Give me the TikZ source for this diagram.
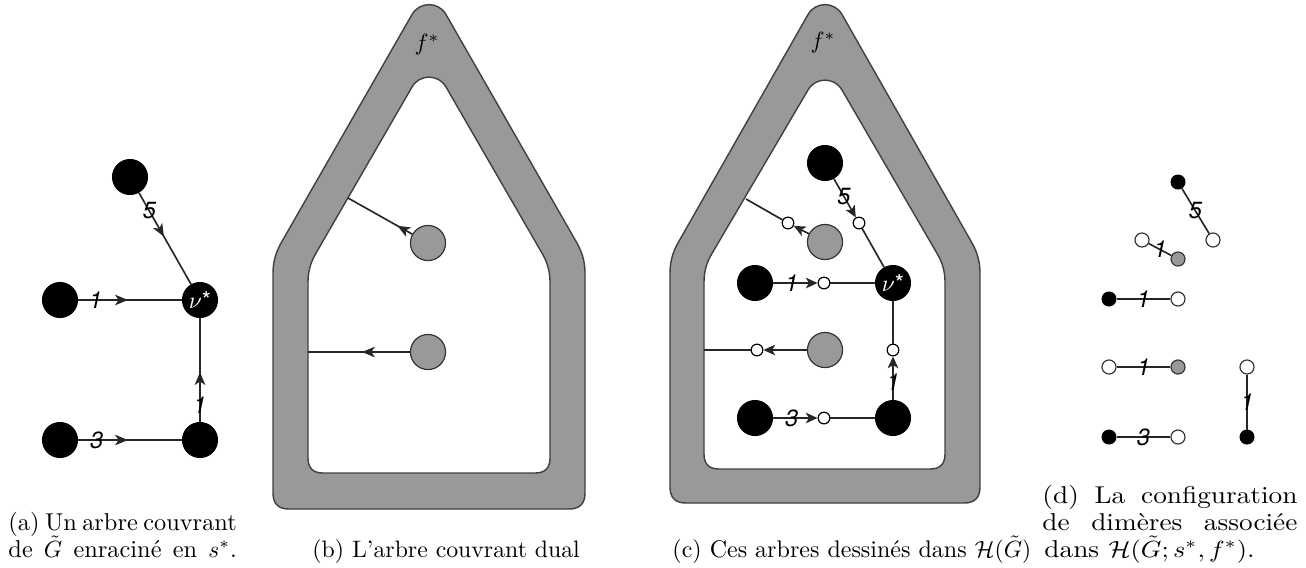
\documentclass[tikz,border=0pt]{standalone}
\usepackage{fontspec}
\usepackage{graphicx}
\newfontfamily\labfont{TeX Gyre Heros}
\usetikzlibrary{arrows.meta,decorations.markings}
\definecolor{ringgray}{RGB}{153,153,153}
\newcommand\capfont{\fontsize{10.4pt}{12.5pt}\selectfont}
\begin{document}
\begin{tikzpicture}[x=0.427pt,y=-0.427pt,
  blk/.style={circle,fill=black,draw=black,minimum size=15pt,inner sep=0pt},
  gry/.style={circle,fill=ringgray,draw=black!80,line width=0.5pt,minimum size=15pt,inner sep=0pt},
  wht/.style={circle,fill=white,draw=black,line width=0.5pt,minimum size=5pt,inner sep=0pt},
  sblk/.style={circle,fill=black,draw=black,minimum size=6pt,inner sep=0pt},
  swht/.style={circle,fill=white,draw=black!80,line width=0.5pt,minimum size=6pt,inner sep=0pt},
  sgry/.style={circle,fill=ringgray,draw=black!80,line width=0.5pt,minimum size=6pt,inner sep=0pt},
  edgeline/.style={draw=black!85,line width=0.7pt},
  tipend/.style={-{Stealth[length=5pt,width=4.5pt,inset=1.3pt]}},
  midarrow/.style={postaction={decorate},decoration={markings,mark=at position #1 with {\arrow{Stealth[length=5.5pt,width=4.5pt,inset=1.5pt]}}}},
  lab/.style={font=\labfont\itshape,inner sep=0pt},
  ringshape/.style={fill=ringgray,draw=black!75,line width=0.6pt,even odd rule},
  captext/.style={anchor=base west,inner sep=0pt,font=\capfont},
  vlab/.style={text=white}
]
\useasboundingbox (0,0) rectangle (1306,567);

% ---------- panel (a)
\node[blk] (a5) at (130,177) {};
\node[blk,vlab] (av) at (200,300) {$\nu$\labfont*};
\node[blk] (a1) at (60,300) {};
\node[blk] (a3) at (60,440) {};
\node[blk] (ab) at (200,440) {};
\draw[edgeline,midarrow=0.48] (a5) -- node[lab,pos=0.2]{5} (av);
\draw[edgeline,midarrow=0.48] (a1) -- node[lab,pos=0.17]{1} (av);
\draw[edgeline,midarrow=0.48] (a3) -- node[lab,pos=0.18]{3} (ab);
\draw[edgeline,midarrow=0.48] (ab) -- node[lab,pos=0.16]{1} (av);

% ---------- panel (b)
\draw[ringshape]
  (429,509) -- (289,509) .. controls (278.3,509) and (273,503.7) .. (273,493)
  -- (273,273) .. controls (273,262.3) and (275.7,252.4) .. (281,243.1)
  -- (412,14.5) .. controls (419.6,1.3) and (438.4,1.3) .. (446,14.5)
  -- (577,243.1) .. controls (582.3,252.4) and (585,262.3) .. (585,273)
  -- (585,493) .. controls (585,503.7) and (579.7,509) .. (569,509) -- cycle
  (429,473) -- (323,473) .. controls (313,473) and (308,468) .. (308,458)
  -- (308,282) .. controls (308,272) and (310.5,262.7) .. (315.5,254)
  -- (412,87) .. controls (419.6,73.8) and (438.4,73.8) .. (446,87)
  -- (542.5,254) .. controls (547.5,262.7) and (550,272) .. (550,282)
  -- (550,458) .. controls (550,468) and (545,473) .. (535,473) -- cycle;
\node (bf) at (427,45) {$f^*$};
\node[gry] (bg1) at (428,243) {};
\node[gry] (bg2) at (428,352) {};
\coordinate (be1) at (348,198);
\coordinate (be2) at (308,352);
\draw[edgeline,midarrow=0.23] (bg1) -- (be1);
\draw[edgeline,midarrow=0.47] (bg2) -- (be2);

% ---------- panel (c)
\draw[ringshape]
  (825,503) -- (686,503) .. controls (675.3,503) and (670,497.7) .. (670,487)
  -- (670,273) .. controls (670,262.3) and (672.6,252.4) .. (677.9,243.1)
  -- (808,14.5) .. controls (815.6,1.3) and (834.4,1.3) .. (842,14.5)
  -- (972.1,243.1) .. controls (977.4,252.4) and (980,262.3) .. (980,273)
  -- (980,487) .. controls (980,497.7) and (974.7,503) .. (964,503) -- cycle
  (825,469) -- (719,469) .. controls (709,469) and (704,464) .. (704,454)
  -- (704,282) .. controls (704,272) and (706.5,262.7) .. (711.6,254.1)
  -- (808,90) .. controls (815.6,76.8) and (834.4,76.8) .. (842,90)
  -- (937.4,254.1) .. controls (942.5,262.7) and (945,272) .. (945,282)
  -- (945,454) .. controls (945,464) and (940,469) .. (930,469) -- cycle;
\node (cf) at (823,43) {$f^*$};
\node[blk] (c5) at (825,163) {};
\node[blk,vlab] (cv) at (893,283) {$\nu$\labfont*};
\node[blk] (c1) at (755,283) {};
\node[blk] (c3) at (755,418) {};
\node[blk] (cb) at (893,418) {};
\node[gry] (cg1) at (825,242) {};
\node[gry] (cg2) at (825,350) {};
\node[wht] (cw5) at (859,223) {};
\node[wht] (cwg1) at (788,223) {};
\node[wht] (cw1) at (824,283) {};
\node[wht] (cwg2) at (757,350) {};
\node[wht] (cwv) at (893,350) {};
\node[wht] (cw3) at (824,418) {};
\coordinate (ce1) at (746,199);
\coordinate (ce2) at (704,350);
\draw[edgeline,tipend] (c5) -- node[lab,pos=0.45]{5} (cw5);
\draw[edgeline] (cw5) -- (cv);
\draw[edgeline,tipend] (c1) -- node[lab,pos=0.42]{1} (cw1);
\draw[edgeline] (cw1) -- (cv);
\draw[edgeline,tipend] (c3) -- node[lab,pos=0.42]{3} (cw3);
\draw[edgeline] (cw3) -- (cb);
\draw[edgeline,tipend] (cb) -- node[lab,pos=0.4]{1} (cwv);
\draw[edgeline] (cwv) -- (cv);
\draw[edgeline,tipend] (cg1) -- (cwg1);
\draw[edgeline] (cwg1) -- (ce1);
\draw[edgeline,tipend] (cg2) -- (cwg2);
\draw[edgeline] (cwg2) -- (ce2);

% ---------- panel (d)
\node[sblk] (d5a) at (1178,182) {};
\node[swht] (d5b) at (1213,240) {};
\node[swht] (dga) at (1142,240) {};
\node[sgry] (dgb) at (1178,259) {};
\node[sblk] (d1a) at (1109,299) {};
\node[swht] (d1b) at (1178,299) {};
\node[swht] (d2a) at (1109,367) {};
\node[sgry] (d2b) at (1178,367) {};
\node[swht] (dva) at (1247,367) {};
\node[sblk] (dvb) at (1247,437) {};
\node[sblk] (d3a) at (1109,437) {};
\node[swht] (d3b) at (1178,437) {};
\draw[edgeline] (d5a) -- node[lab]{5} (d5b);
\draw[edgeline] (dga) -- node[lab]{1} (dgb);
\draw[edgeline] (d1a) -- node[lab]{1} (d1b);
\draw[edgeline] (d2a) -- node[lab]{1} (d2b);
\draw[edgeline] (dva) -- node[lab]{1} (dvb);
\draw[edgeline] (d3a) -- node[lab]{3} (d3b);

% ---------- captions
\node[captext] (capa1) at (8,530) {\makebox[97.5pt][s]{(a) Un arbre couvrant}};
\node[captext] (capa2) at (8,557) {\makebox[97.5pt][s]{de $\tilde G$ enracin\'e en $s^*$.}};
\node[captext,font=\fontsize{10.15pt}{12pt}\selectfont] (capb) at (312,557) {(b) L'arbre couvrant dual};
\node[captext,font=\fontsize{10.25pt}{12pt}\selectfont] (capc) at (672,557) {(c) Ces arbres dessin\'es dans $\mathcal{H}(\tilde G)$};
\node[captext] (capd1) at (1042,503) {\scalebox{1.12}[1]{\makebox[97.2pt][s]{(d) La configuration}}};
\node[captext] (capd2) at (1042,530) {\scalebox{1.12}[1]{\makebox[97.2pt][s]{de dim\`eres associ\'ee}}};
\node[captext] (capd3) at (1044,557) {\scalebox{1.12}[1]{dans $\mathcal{H}(\tilde G; s^*, f^*)$.}};
\end{tikzpicture}
\end{document}
